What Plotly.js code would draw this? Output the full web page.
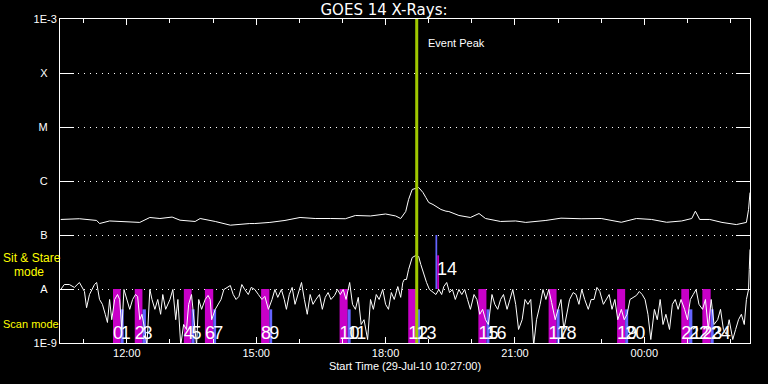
<!DOCTYPE html>
<html>
<head>
<meta charset="utf-8">
<script src="https://cdn.plot.ly/plotly-3.0.1.min.js"></script>
<style>html,body{margin:0;padding:0;background:#000;}#chart{width:768px;height:384px;}</style>
</head>
<body>
<div id="chart"></div>
<script>
// Time is given in minutes after the start time 29-Jul-10 10:27:00
const startTimeUTC = Date.UTC(2010, 6, 29, 10, 27, 0);
const rangeMinutes = [0, 960];

// GOES long channel (1-8 A), W/m^2
const longMin = [1,27,51,55,69,97,111,125,139,156,167,188,195,216,237,264,271,292,313,334,355,376,397,411,432,453,467,474,481,485,490,499,505,509,513,519,530,537,541,555,571,583,592,613,634,648,676,697,725,753,781,802,823,844,865,879,884,890,904,921,941,955,958,960];
const longFlux = [1.94e-7,2.0e-7,1.86e-7,1.63e-7,1.82e-7,1.78e-7,1.71e-7,2.11e-7,2.02e-7,2.15e-7,1.88e-7,1.78e-7,2.02e-7,1.78e-7,1.52e-7,1.63e-7,1.63e-7,1.71e-7,1.86e-7,2.11e-7,2.02e-7,2.02e-7,2.0e-7,2.30e-7,2.25e-7,2.45e-7,2.25e-7,2.02e-7,2.72e-7,4.54e-7,6.97e-7,7.59e-7,6.12e-7,4.95e-7,4.0e-7,3.67e-7,2.97e-7,2.76e-7,2.72e-7,2.30e-7,2.11e-7,2.50e-7,2.02e-7,1.78e-7,1.82e-7,1.71e-7,1.86e-7,2.05e-7,2.0e-7,2.02e-7,1.72e-7,2.02e-7,1.94e-7,1.72e-7,1.82e-7,2.02e-7,2.76e-7,1.94e-7,1.94e-7,1.71e-7,1.56e-7,1.71e-7,2.97e-7,6.1e-7];

// GOES short channel (0.5-4 A), W/m^2
const shortMin = [
 1,6,13,20,27,34,37,41,48,51,
 55,59,63,66,69,72,76,80,83,86,
 89,93,97,101,105,108,111,114,118,121,
 125,128,132,136,140,143,147,153,157,161,
 164,168,172,176,179,183,186,190,193,197,
 202,206,209,211,216,220,224,228,232,237,
 241,245,249,253,257,262,266,271,276,281,
 285,290,295,299,303,308,312,315,319,323,
 327,331,336,340,344,348,352,356,361,365,
 369,373,377,382,386,390,394,398,403,407,
 411,415,419,423,428,432,436,440,444,449,
 453,457,461,465,470,474,477,479,482,485,
 488,490,495,499,502,506,510,514,518,523,
 527,531,534,538,542,546,550,555,559,563,
 567,571,576,580,584,588,592,596,601,605,
 609,613,617,622,626,630,634,638,643,647,
 651,655,659,663,668,672,676,680,684,689,
 693,697,701,705,709,714,718,722,726,730,
 735,739,743,747,751,756,760,764,768,772,
 776,781,785,789,793,797,802,806,810,814,
 818,822,827,831,835,839,843,848,852,856,
 860,864,869,873,877,881,885,889,894,898,
 902,906,910,915,919,923,927,931,936,940,
 944,948,952,955,958,959,960];
const shortFlux = [
 9.8e-9,1.21e-8,1.21e-8,1.07e-8,1.32e-8,9.0e-9,4.5e-9,7.9e-9,1.21e-8,1.32e-8,
 6.4e-9,5.2e-9,3.4e-9,2.4e-9,6.4e-9,2.7e-9,6.4e-9,7.9e-9,6.4e-9,1.78e-9,
 9.8e-9,6.4e-9,4.2e-9,6.4e-9,7.9e-9,7.3e-9,2.7e-9,3.4e-9,1.78e-9,9e-10,
 9.8e-9,6.4e-9,4.2e-9,6.4e-9,3.4e-9,7.9e-9,4.2e-9,6.4e-9,9.8e-9,2.7e-9,
 6.4e-9,9e-10,2.2e-9,1.78e-9,5.2e-9,7.9e-9,2.7e-9,9e-10,6.4e-9,4.2e-9,
 6.4e-9,7.6e-9,6.4e-9,2.7e-9,4.2e-9,5.2e-9,6.4e-9,9.8e-9,1.07e-8,1.16e-8,
 7.9e-9,6.4e-9,7.3e-9,1.21e-8,9.8e-9,7.9e-9,1.07e-8,9.8e-9,7.9e-9,6.4e-9,
 7.3e-9,4.2e-9,6.4e-9,9.8e-9,7.0e-9,9.8e-9,6.4e-9,4.2e-9,7.9e-9,1.07e-8,
 5.2e-9,7.9e-9,1.32e-8,6.4e-9,3.4e-9,7.9e-9,5.2e-9,6.4e-9,7.9e-9,4.2e-9,
 7.0e-9,8.6e-9,6.4e-9,7.6e-9,9.8e-9,7.9e-9,9.8e-9,6.4e-9,1.32e-8,5.2e-9,
 4.2e-9,7.0e-9,2.2e-9,2.7e-9,1.16e-9,6.4e-9,4.2e-9,7.9e-9,6.4e-9,9.8e-9,
 5.2e-9,4.2e-9,8.6e-9,6.4e-9,1.11e-8,7.0e-9,1.32e-8,1.5e-8,1.5e-8,2.3e-8,
 3.1e-8,3.83e-8,4.17e-8,4.0e-8,2.84e-8,1.86e-8,1.32e-8,9.8e-9,9.0e-9,7.9e-9,
 9.8e-9,7.9e-9,1.11e-8,1.32e-8,8.6e-9,9.8e-9,6.4e-9,9.8e-9,7.9e-9,9.8e-9,
 6.4e-9,4.2e-9,7.9e-9,6.4e-9,3.4e-9,4.2e-9,2.7e-9,2.2e-9,7.9e-9,5.2e-9,
 4.2e-9,6.4e-9,7.9e-9,4.2e-9,6.4e-9,9.8e-9,5.2e-9,1.78e-9,2.7e-9,6.4e-9,
 5.2e-9,6.4e-9,9e-10,2.7e-9,5.2e-9,9.8e-9,6.4e-9,9.8e-9,5.6e-9,2.7e-9,
 4.2e-9,6.4e-9,1.78e-9,3.4e-9,6.4e-9,8.6e-9,7.9e-9,5.2e-9,9.8e-9,6.4e-9,
 4.2e-9,6.4e-9,6.4e-9,1.07e-8,9.0e-9,5.2e-9,6.4e-9,7.9e-9,4.2e-9,6.4e-9,
 2.7e-9,4.2e-9,2.7e-9,3.4e-9,6.4e-9,7.0e-9,7.6e-9,9.0e-9,7.9e-9,6.4e-9,
 3.4e-9,1.16e-9,4.2e-9,2.7e-9,6.4e-9,2.2e-9,3.4e-9,1.78e-9,5.2e-9,6.4e-9,
 4.2e-9,6.4e-9,4.2e-9,2.7e-9,6.4e-9,7.9e-9,9.8e-9,5.2e-9,4.2e-9,6.4e-9,
 1.78e-9,6.4e-9,2.2e-9,2.7e-9,4.2e-9,1.78e-9,1.44e-9,2.7e-9,1.16e-9,1.78e-9,
 2.7e-9,3.4e-9,2.2e-9,6.4e-9,9.8e-9,2.3e-8,5.4e-8];

// Scan mode intervals (magenta) followed by blue intervals
const scanStartMin = [73.7,104,172.3,201.6,279.8,389,484.5,582.1,679.8,775.1,864.4,893.7];
const scanEndMin   = [84.4,114.7,183.1,213.2,291.3,400.2,496,593.3,690.9,786.3,875.2,905.3];
const blueEndMin   = [88.6,119.5,187.2,217.2,295.2,404.4,500.8,597.5,695.2,790.5,879.8,909.5];
const scanNumA = [0,2,4,6,8,10,12,15,17,19,21,23];
const scanNumB = [1,3,5,7,9,11,13,16,18,20,22,24];
const scanFloor = 1e-9, scanTop = 1e-8, blueTop = 4.2e-9, scanLabelY = 1.46e-9;

// Sit & Stare entry
const stareBlueMin = [522.4, 524.8];
const stareMagMin = [524.8, 527.4];
const stareFloor = 1e-8, stareBlueTop = 1e-7, stareMagTop = 4.2e-8;
const stareNum = 14, stareLabelMin = 524.6, stareLabelY = 2.2e-8;

const eventPeakMin = 496.3;

const yTickVals = [1e-9,1e-8,1e-7,1e-6,1e-5,1e-4,1e-3];
const nb = '\u00a0';
const yTickText = ['1E-9','A'+nb+nb+nb,'B'+nb+nb+nb,'C'+nb+nb+nb,'M'+nb+nb+nb,'X'+nb+nb+nb,'1E-3'];

function toDate(m){
  const d = new Date(startTimeUTC + m*60000);
  return d.toISOString().replace('T',' ').replace('Z','');
}

const magenta = '#c800c8', blue = '#6464ff', green = '#a0c800';

const traces = [];
// magenta scan bars
traces.push({type:'bar', x: scanStartMin.map((s,i)=>toDate((s+scanEndMin[i])/2)),
  width: scanStartMin.map((s,i)=>(scanEndMin[i]-s)*60000),
  base: scanStartMin.map(()=>scanFloor), y: scanStartMin.map(()=>scanTop-scanFloor),
  marker:{color:magenta, line:{width:0}}});
// blue bars
traces.push({type:'bar', x: scanEndMin.map((s,i)=>toDate((s+blueEndMin[i])/2)),
  width: scanEndMin.map((s,i)=>(blueEndMin[i]-s)*60000),
  base: scanEndMin.map(()=>scanFloor), y: scanEndMin.map(()=>blueTop-scanFloor),
  marker:{color:blue, line:{width:0}}});
// sit & stare
traces.push({type:'bar', x:[toDate((stareBlueMin[0]+stareBlueMin[1])/2)], width:[(stareBlueMin[1]-stareBlueMin[0])*60000],
  base:[stareFloor], y:[stareBlueTop-stareFloor], marker:{color:blue, line:{width:0}}});
traces.push({type:'bar', x:[toDate((stareMagMin[0]+stareMagMin[1])/2)], width:[(stareMagMin[1]-stareMagMin[0])*60000],
  base:[stareFloor], y:[stareMagTop-stareFloor], marker:{color:magenta, line:{width:0}}});
// curves
traces.push({type:'scatter', mode:'lines', x: longMin.map(toDate), y: longFlux, line:{color:'white', width:1}});
traces.push({type:'scatter', mode:'lines', x: shortMin.map(toDate), y: shortFlux, line:{color:'white', width:1}});
// event peak line
traces.push({type:'scatter', mode:'lines', x:[toDate(eventPeakMin), toDate(eventPeakMin)], y:[1e-9, 1e-3], line:{color:green, width:3}});
// scan labels
const labX = [], labT = [];
scanStartMin.forEach((s,i)=>{ labX.push(toDate(s)); labT.push(String(scanNumA[i])); labX.push(toDate(scanEndMin[i])); labT.push(String(scanNumB[i])); });
traces.push({type:'scatter', mode:'text', x: labX, y: labX.map(()=>scanLabelY), text: labT, textposition:'middle right', cliponaxis:false,
  textfont:{family:'Liberation Sans Narrow, Liberation Sans, sans-serif', size:18, color:'white'}});
traces.push({type:'scatter', mode:'text', x:[toDate(stareLabelMin)], y:[stareLabelY], text:[String(stareNum)], textposition:'middle right', cliponaxis:false,
  textfont:{family:'Liberation Sans Narrow, Liberation Sans, sans-serif', size:18, color:'white'}});

const layout = {
  width:768, height:384,
  paper_bgcolor:'#000', plot_bgcolor:'#000',
  margin:{l:60, r:18, t:19, b:41},
  showlegend:false, hovermode:false, barmode:'overlay',
  font:{family:'Liberation Sans, Arial, sans-serif', size:11, color:'white'},
  title:{text:'GOES 14 X-Rays:', font:{family:'DejaVu Sans, sans-serif', size:15, color:'white'}, x:0.5, xref:'container', xanchor:'center', y:1-10/384, yref:'container', yanchor:'middle'},
  xaxis:{type:'date', range:[toDate(rangeMinutes[0]), toDate(rangeMinutes[1])], showline:true, linecolor:'white', linewidth:1, mirror:'ticks',
    ticks:'inside', ticklen:6, tickcolor:'white', tick0:'2010-07-29 12:00', dtick:3*3600000, tickformat:'%H:%M', showgrid:false, zeroline:false,
    minor:{dtick:3600000, tick0:'2010-07-29 12:00', ticks:'inside', ticklen:4, tickcolor:'white', showgrid:false},
    tickfont:{size:11, color:'white'},
    title:{text:'Start Time (29-Jul-10 10:27:00)', font:{size:11, color:'white'}, standoff:4}},
  yaxis:{type:'log', range:[-9,-3], tickvals:yTickVals, ticktext:yTickText, ticks:'inside', ticklen:14, tickcolor:'white',
    showline:true, linecolor:'white', linewidth:1, mirror:'ticks', showgrid:true, gridcolor:'white', griddash:'1px,5px', gridwidth:1, zeroline:false,
    tickfont:{size:11, color:'white'}},
  annotations:[
    {text:'Event Peak', xref:'x', x:toDate(eventPeakMin), xanchor:'left', xshift:9, yref:'paper', y:(343-42.5)/324, yanchor:'middle', showarrow:false, font:{size:11, color:'white'}},
    {text:'Sit & Stare', xref:'paper', x:0, xshift:-59, xanchor:'left', yref:'paper', y:(343-258)/324, yanchor:'middle', showarrow:false, font:{size:12, color:'#ffff00'}},
    {text:'mode', xref:'paper', x:0, xshift:-48, xanchor:'left', yref:'paper', y:(343-271.5)/324, yanchor:'middle', showarrow:false, font:{size:12, color:'#ffff00'}},
    {text:'Scan mode', xref:'paper', x:0, xshift:-59, xanchor:'left', yref:'paper', y:(343-324.3)/324, yanchor:'middle', showarrow:false, font:{size:11, color:'#ffff00'}}
  ]
};

Plotly.newPlot('chart', traces, layout, {staticPlot:true, displayModeBar:false});
</script>
</body>
</html>
